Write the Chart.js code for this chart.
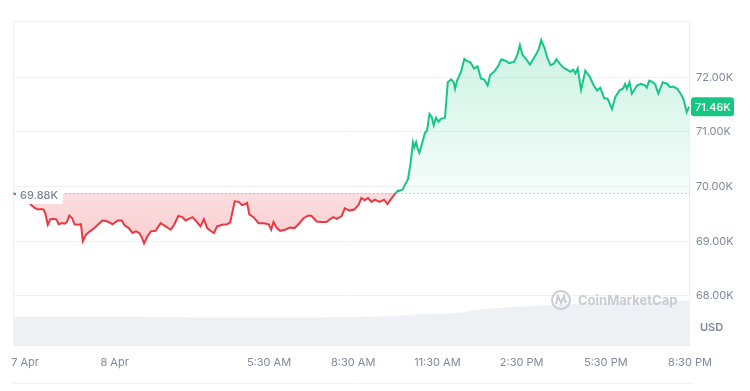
<!DOCTYPE html>
<html>
<head>
<meta charset="utf-8">
<script src="https://cdn.jsdelivr.net/npm/chart.js@4.4.1/dist/chart.umd.min.js"></script>
<style>
  html, body { margin: 0; padding: 0; background: #fff; }
  #wrap { width: 750px; height: 391px; position: relative; }
</style>
</head>
<body>
<div id="wrap"><canvas id="chart"></canvas></div>
<script>
'use strict';

// hours since 8 Apr 00:00, price in thousands USD
const hours = [
  -3.62, -3.40, -3.19, -2.97, -2.85, -2.73, -2.61, -2.53, -2.46, -2.38,
  -2.29, -2.20, -2.08, -1.99, -1.87, -1.78, -1.70, -1.61, -1.51, -1.43,
  -1.31, -1.20, -1.13, -1.02, -0.88, -0.72, -0.54, -0.43, -0.25, -0.07,
  0.11, 0.26, 0.34, 0.50, 0.64, 0.76, 0.88, 0.97, 1.05, 1.17,
  1.29, 1.46, 1.64, 1.82, 2.00, 2.12, 2.27, 2.41, 2.53, 2.65,
  2.77, 2.88, 3.06, 3.18, 3.30, 3.41, 3.54, 3.65, 3.83, 4.01,
  4.12, 4.28, 4.42, 4.54, 4.66, 4.72, 4.80, 4.95, 5.13, 5.31,
  5.49, 5.58, 5.66, 5.78, 5.90, 6.07, 6.25, 6.41, 6.55, 6.73,
  6.90, 7.02, 7.20, 7.38, 7.55, 7.67, 7.79, 7.91, 8.09, 8.20,
  8.38, 8.54, 8.70, 8.79, 8.91, 9.03, 9.15, 9.27, 9.44, 9.60,
  9.72, 9.86, 9.98, 10.10, 10.15, 10.27, 10.35, 10.45, 10.54, 10.63,
  10.68, 10.74, 10.80, 10.86, 10.98, 11.06, 11.13, 11.22, 11.30, 11.37,
  11.45, 11.54, 11.63, 11.77, 11.87, 11.99, 12.08, 12.13, 12.20, 12.34,
  12.46, 12.55, 12.67, 12.81, 12.93, 13.05, 13.17, 13.29, 13.38, 13.52,
  13.66, 13.78, 13.94, 14.05, 14.23, 14.35, 14.44, 14.53, 14.65, 14.80,
  14.92, 15.04, 15.12, 15.20, 15.32, 15.41, 15.53, 15.65, 15.74, 15.86,
  15.98, 16.12, 16.24, 16.34, 16.42, 16.50, 16.62, 16.77, 16.93, 17.07,
  17.19, 17.30, 17.45, 17.56, 17.72, 17.84, 17.99, 18.11, 18.19, 18.25,
  18.34, 18.43, 18.61, 18.75, 18.90, 18.96, 19.05, 19.17, 19.26, 19.37,
  19.53, 19.69, 19.79, 19.90, 20.05, 20.20, 20.28, 20.38, 20.47
];
const prices = [
  69.88, 69.84, 69.79, 69.66, 69.61, 69.58, 69.59, 69.58, 69.49, 69.30,
  69.40, 69.41, 69.40, 69.31, 69.33, 69.32, 69.35, 69.47, 69.42, 69.31,
  69.30, 69.31, 69.00, 69.12, 69.18, 69.24, 69.33, 69.38, 69.36, 69.31,
  69.38, 69.38, 69.30, 69.24, 69.15, 69.18, 69.15, 69.07, 68.96, 69.09,
  69.18, 69.19, 69.33, 69.27, 69.21, 69.30, 69.46, 69.44, 69.38, 69.41,
  69.44, 69.38, 69.27, 69.40, 69.24, 69.19, 69.15, 69.27, 69.30, 69.31,
  69.35, 69.73, 69.72, 69.66, 69.68, 69.70, 69.49, 69.44, 69.33, 69.33,
  69.31, 69.21, 69.35, 69.24, 69.19, 69.21, 69.25, 69.24, 69.31, 69.42,
  69.47, 69.46, 69.36, 69.35, 69.35, 69.40, 69.44, 69.41, 69.46, 69.60,
  69.56, 69.58, 69.67, 69.79, 69.75, 69.79, 69.72, 69.76, 69.72, 69.76,
  69.68, 69.78, 69.86, 69.93, 69.92, 69.95, 70.04, 70.13, 70.41, 70.81,
  70.72, 70.81, 70.69, 70.62, 70.84, 70.99, 71.02, 71.33, 71.27, 71.12,
  71.26, 71.19, 71.24, 71.26, 71.91, 71.96, 71.91, 71.79, 71.94, 72.10,
  72.34, 72.30, 72.28, 72.16, 72.20, 71.98, 71.96, 71.85, 72.04, 72.10,
  72.20, 72.33, 72.30, 72.26, 72.28, 72.41, 72.59, 72.41, 72.34, 72.23,
  72.34, 72.44, 72.53, 72.68, 72.53, 72.37, 72.22, 72.25, 72.33, 72.25,
  72.18, 72.14, 72.10, 72.14, 72.07, 72.16, 71.77, 72.12, 72.01, 71.85,
  71.76, 71.81, 71.61, 71.61, 71.42, 71.64, 71.76, 71.79, 71.88, 71.79,
  71.91, 71.70, 71.85, 71.88, 71.85, 71.81, 71.94, 71.91, 71.87, 71.70,
  71.91, 71.88, 71.82, 71.83, 71.79, 71.67, 71.58, 71.36, 71.46
];

// volume strip (billions USD, rough)
const volHours = [-3.62, 0, 5, 9, 10, 11, 12.2, 13.3, 15.5, 17, 19, 20.5];
const volumes  = [3.47, 3.47, 3.40, 3.47, 3.60, 3.84, 3.96, 4.46, 4.95, 5.14, 5.33, 5.45];

const xTickHours  = [-3.19, 0, 5.5, 8.5, 11.5, 14.5, 17.5, 20.5];
const xTickLabels = ['7 Apr', '8 Apr', '5:30 AM', '8:30 AM', '11:30 AM', '2:30 PM', '5:30 PM', '8:30 PM'];
const yTicks = [68, 69, 70, 71, 72];

const openPrice = prices[0];
const lastPrice = prices[prices.length - 1];

const GREEN = '#16c784';
const RED = '#ea3943';
const FONT = 'Inter, "Noto Sans", sans-serif';

function splitStroke(ctx) {
  const chart = ctx.chart;
  const area = chart.chartArea;
  if (!area) return GREEN;
  const y = chart.scales.y.getPixelForValue(openPrice);
  const t = Math.min(Math.max((y - area.top) / (area.bottom - area.top), 0), 1);
  const g = chart.ctx.createLinearGradient(0, area.top, 0, area.bottom);
  g.addColorStop(0, GREEN);
  g.addColorStop(t, GREEN);
  g.addColorStop(t, RED);
  g.addColorStop(1, RED);
  return g;
}

function splitFill(ctx) {
  const chart = ctx.chart;
  const area = chart.chartArea;
  if (!area) {
    return { target: { value: openPrice }, above: 'rgba(22,199,132,0.12)', below: 'rgba(234,57,67,0.2)' };
  }
  const ys = chart.scales.y;
  const yBase = ys.getPixelForValue(openPrice);
  const yHi = ys.getPixelForValue(Math.max(...prices));
  const yLo = ys.getPixelForValue(Math.min(...prices));
  const up = chart.ctx.createLinearGradient(0, yHi, 0, yBase);
  up.addColorStop(0, 'rgba(22,199,132,0.22)');
  up.addColorStop(1, 'rgba(22,199,132,0.04)');
  const dn = chart.ctx.createLinearGradient(0, yBase, 0, yLo);
  dn.addColorStop(0, 'rgba(234,57,67,0.17)');
  dn.addColorStop(1, 'rgba(234,57,67,0.25)');
  return { target: { value: openPrice }, above: up, below: dn };
}

function roundBox(c, x, y, w, h, r) {
  c.beginPath();
  c.moveTo(x + r, y);
  c.arcTo(x + w, y, x + w, y + h, r);
  c.arcTo(x + w, y + h, x, y + h, r);
  c.arcTo(x, y + h, x, y, r);
  c.arcTo(x, y, x + w, y, r);
  c.closePath();
}

const overlay = {
  id: 'overlay',
  beforeDatasetsDraw(chart) {
    const { ctx: c, chartArea: a } = chart;
    c.save();
    c.strokeStyle = '#eceef2';
    c.lineWidth = 1;
    c.strokeRect(a.left + 0.5, a.top + 0.5, a.right - a.left - 1, a.bottom - a.top);
    // navigator strip top edge
    c.strokeStyle = '#f1f2f5';
    c.beginPath();
    c.moveTo(a.left, 383.5);
    c.lineTo(a.right + 2, 383.5);
    c.stroke();
    c.restore();
  },
  afterDatasetsDraw(chart) {
    const { ctx: c, chartArea: a, scales } = chart;
    const yBase = scales.y.getPixelForValue(openPrice);
    c.save();

    // dotted open-price line
    c.strokeStyle = '#b0b6c2';
    c.lineWidth = 1;
    c.setLineDash([1.5, 2.5]);
    c.beginPath();
    c.moveTo(a.left, Math.round(yBase) + 0.5);
    c.lineTo(a.right, Math.round(yBase) + 0.5);
    c.stroke();
    c.setLineDash([]);

    // watermark
    const cx = a.right - 129, cy = a.bottom - 45;
    c.strokeStyle = '#c8ccd4';
    c.lineWidth = 2;
    c.beginPath();
    c.arc(cx, cy, 9, 0, Math.PI * 2);
    c.stroke();
    c.beginPath();
    c.moveTo(cx - 5, cy + 4);
    c.lineTo(cx - 3, cy - 4);
    c.lineTo(cx, cy + 3);
    c.lineTo(cx + 3, cy - 4);
    c.lineTo(cx + 4, cy + 2);
    c.lineTo(cx + 6, cy + 1);
    c.stroke();
    c.fillStyle = '#c8ccd4';
    c.font = '700 13px ' + FONT;
    c.textAlign = 'left';
    c.textBaseline = 'middle';
    c.fillText('CoinMarketCap', cx + 17, cy + 1);

    // open price tag (left)
    c.font = '500 11px ' + FONT;
    const openTxt = openPrice.toFixed(2) + 'K';
    const ow = c.measureText(openTxt).width + 9;
    c.fillStyle = '#ffffff';
    roundBox(c, a.left + 3, yBase - 6, ow, 17, 3);
    c.fill();
    c.fillStyle = '#7a8497';
    c.fillText(openTxt, a.left + 7, yBase + 2.5);

    // last price tag (right)
    const yLast = scales.y.getPixelForValue(lastPrice);
    const lastTxt = lastPrice.toFixed(2) + 'K';
    c.fillStyle = GREEN;
    roundBox(c, a.right + 1, yLast - 9.5, 43, 19, 3);
    c.fill();
    c.fillStyle = '#ffffff';
    c.fillText(lastTxt, a.right + 5, yLast + 0.5);

    // currency unit
    c.fillStyle = '#808a9d';
    c.font = '600 11px ' + FONT;
    c.fillText('USD', a.right + 10, a.bottom - 17);
    c.restore();
  }
};

new Chart(document.getElementById('chart'), {
  type: 'line',
  data: {
    datasets: [
      {
        label: 'Price',
        data: hours.map((h, i) => ({ x: h, y: prices[i] })),
        yAxisID: 'y',
        borderColor: splitStroke,
        borderWidth: 2,
        pointRadius: 0,
        tension: 0,
        fill: splitFill,
        order: 1,
      },
      {
        label: 'Volume',
        data: volHours.map((h, i) => ({ x: h, y: volumes[i] })),
        yAxisID: 'yv',
        borderWidth: 0,
        backgroundColor: '#eef0f4',
        pointRadius: 0,
        tension: 0.4,
        fill: 'start',
        order: 2,
      },
    ],
  },
  options: {
    responsive: true,
    maintainAspectRatio: false,
    animation: false,
    layout: { padding: { left: 10, top: 21, right: 0, bottom: 16 } },
    plugins: { legend: { display: false }, tooltip: { enabled: false } },
    scales: {
      x: {
        type: 'linear',
        min: -3.62,
        max: 20.5,
        afterBuildTicks: s => { s.ticks = xTickHours.map(v => ({ value: v })); },
        afterFit: s => { s.height = 30; },
        grid: { display: false, drawTicks: false },
        border: { display: false },
        ticks: {
          autoSkip: false,
          maxRotation: 0,
          padding: 11,
          color: '#808a9d',
          font: { family: FONT, size: 11 },
          callback: v => xTickLabels[xTickHours.indexOf(v)] ?? '',
        },
      },
      y: {
        position: 'right',
        min: 67.1,
        max: 73.03,
        afterBuildTicks: s => { s.ticks = yTicks.map(v => ({ value: v })); },
        afterFit: s => { s.width = 60; },
        grid: { color: '#eff1f4', drawTicks: false },
        border: { display: false },
        ticks: {
          padding: 6,
          color: '#808a9d',
          font: { family: FONT, size: 11 },
          callback: v => v.toFixed(2) + 'K',
        },
      },
      yv: {
        display: false,
        min: 0,
        max: 40,
      },
    },
  },
  plugins: [overlay],
});
</script>
</body>
</html>
